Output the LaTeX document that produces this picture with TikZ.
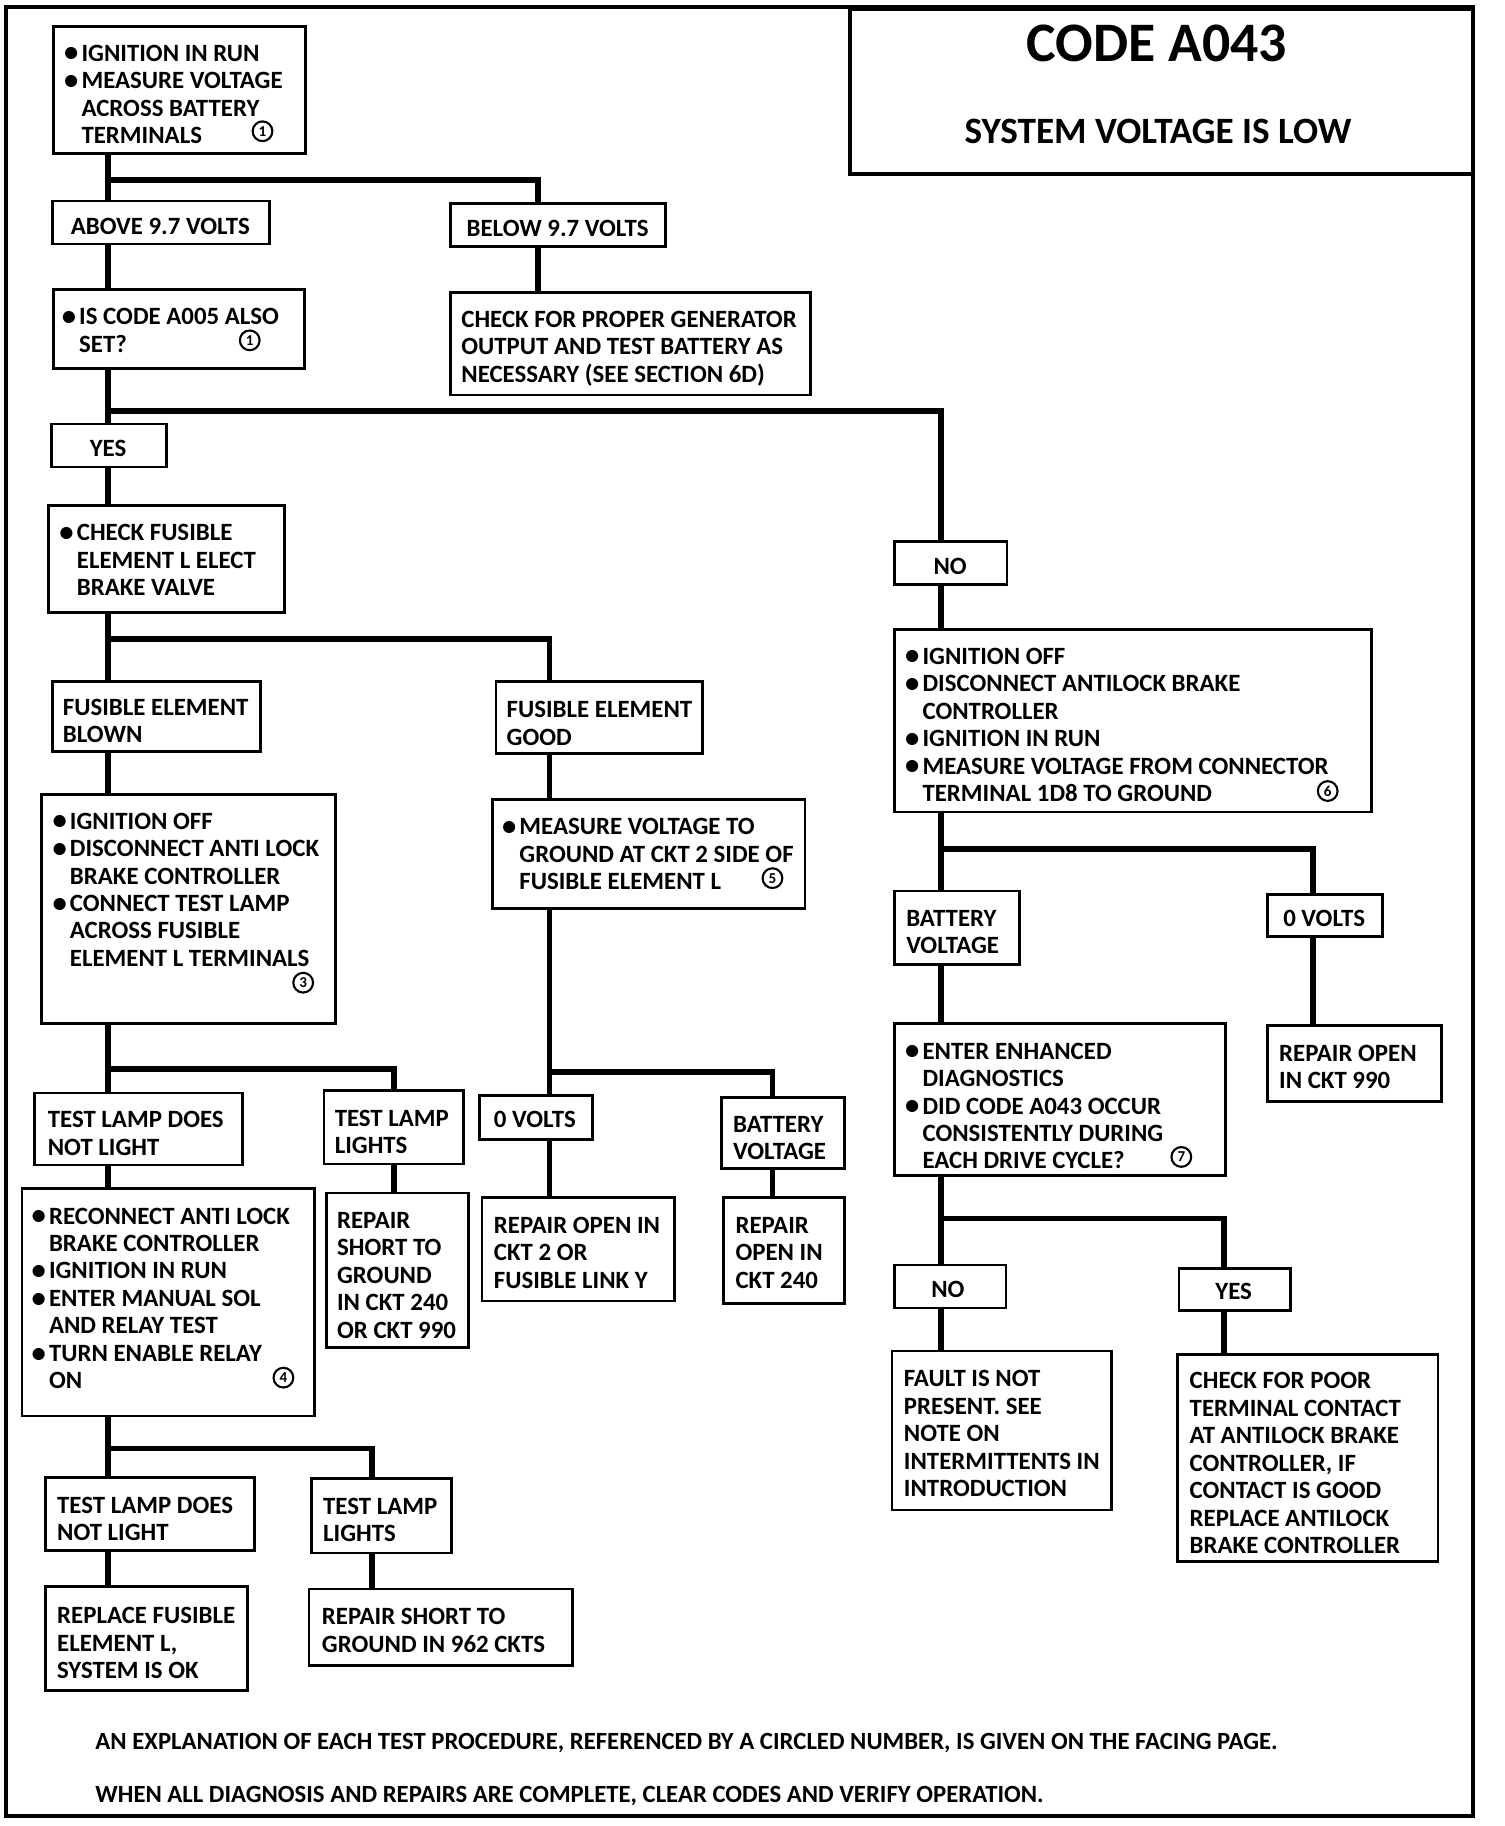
\documentclass[tikz,border=0pt]{standalone}
\usepackage{fontspec}
\setmainfont{Carlito}
\usepackage{graphicx}
\newcommand\bul{\makebox[15pt][l]{\raisebox{-0.6pt}{\scalebox{1.15}{\textbullet}}}}
\newcommand\ind{\hspace*{15pt}}
\newcommand\mkbox[5]{\node[box, minimum width={#4-#2}, minimum height={#5-#3}] (#1) at (#2,#3) {};}
\tikzset{
 box/.style={draw, line width=2.4pt, anchor=north west, inner sep=0pt, outer sep=0pt},
 txt/.style={anchor=north west, inner sep=0pt, align=left, font=\fontsize{21.4}{23.65}\selectfont\bfseries},
 ctxt/.style={anchor=center, inner sep=0pt, font=\fontsize{21.4}{23.65}\selectfont\bfseries},
 conn/.style={line width=5pt},
 cnum/.style={circle, draw, line width=1.8pt, minimum size=17pt, inner sep=0pt, font=\fontsize{13}{13}\selectfont\bfseries},
 foot/.style={anchor=west, inner sep=0pt, font=\fontsize{21.3}{23}\selectfont\bfseries},
}
\begin{document}
\begin{tikzpicture}[x=1pt,y=-1pt]
\fill[white] (0,0) rectangle (1295,1572);
\useasboundingbox (0,0) rectangle (1295,1572);
% frame
\draw[line width=3.5pt] (5,6) rectangle (1268,1563);
\node[box, line width=3.5pt, minimum width=536, minimum height=142] (title) at (732,8) {};
\node[anchor=center, inner sep=0pt, font=\fontsize{48}{48}\selectfont\bfseries] (title-a) at (996,37) {CODE A043};
\node[anchor=center, inner sep=0pt, font=\fontsize{32}{32}\selectfont\bfseries] (title-b) at (997,113) {SYSTEM VOLTAGE IS LOW};

% column coordinates
\coordinate (xL) at (93,0);
\coordinate (xM1) at (463,0);
\coordinate (xM2) at (473,0);
\coordinate (xM3) at (665,0);
\coordinate (xT1) at (339,0);
\coordinate (xT2) at (320,0);
\coordinate (xR) at (810,0);
\coordinate (xR2) at (1130,0);
\coordinate (xR3) at (1054,0);

% ---- boxes ----
\mkbox{A}{46}{23}{263}{132}
\node[txt] (A-t) at (55,38.5) {\bul IGNITION IN RUN\\ \bul MEASURE VOLTAGE\\ \ind ACROSS BATTERY\\ \ind TERMINALS};
\node[cnum] (A-c) at (226,113) {1};

\mkbox{ab}{45}{173}{232}{210}
\node[ctxt] (ab-t) at (138,195) {ABOVE 9.7 VOLTS};
\mkbox{bl}{388}{175}{573}{212}
\node[ctxt] (bl-t) at (480,197) {BELOW 9.7 VOLTS};

\mkbox{B}{46}{249}{262}{317}
\node[txt] (B-t) at (53,265.5) {\bul IS CODE A005 ALSO\\ \ind SET?};
\node[cnum] (B-c) at (215,293) {1};

\mkbox{C}{388}{252}{698}{340}
\node[txt] (C-t) at (397,267.5) {CHECK FOR PROPER GENERATOR\\ OUTPUT AND TEST BATTERY AS\\ NECESSARY (SEE SECTION 6D)};

\mkbox{yes}{44}{365}{143}{402}
\node[ctxt] (yes-t) at (93,386) {YES};
\mkbox{no}{770}{466}{867}{503}
\node[ctxt] (no-t) at (818,488) {NO};

\mkbox{D}{42}{435}{245}{527}
\node[txt] (D-t) at (51,451.5) {\bul CHECK FUSIBLE\\ \ind ELEMENT L ELECT\\ \ind BRAKE VALVE};

\mkbox{feb}{45}{587}{224}{647}
\node[txt] (feb-t) at (54,601.5) {FUSIBLE ELEMENT\\ BLOWN};
\mkbox{feg}{427}{587}{605}{649}
\node[txt] (feg-t) at (436,603.5) {FUSIBLE ELEMENT\\ GOOD};

\mkbox{E}{36}{684}{289}{881}
\node[txt] (E-t) at (45,699.5) {\bul IGNITION OFF\\ \bul DISCONNECT ANTI LOCK\\ \ind BRAKE CONTROLLER\\ \bul CONNECT TEST LAMP\\ \ind ACROSS FUSIBLE\\ \ind ELEMENT L TERMINALS};
\node[cnum] (E-c) at (261,846) {3};

\mkbox{F}{424}{688}{693}{782}
\node[txt] (F-t) at (432,704.5) {\bul MEASURE VOLTAGE TO\\ \ind GROUND AT CKT 2 SIDE OF\\ \ind FUSIBLE ELEMENT L};
\node[cnum] (F-c) at (665,756) {5};

\mkbox{ovm}{413}{943}{510}{981}
\node[ctxt, anchor=west] (ovm-t) at (425,964) {0 VOLTS};
\mkbox{bvm}{621}{945}{727}{1006}
\node[txt] (bvm-t) at (631,960.5) {BATTERY\\ VOLTAGE};
\mkbox{ro2}{415}{1031}{581}{1120}
\node[txt] (ro2-t) at (425,1047.5) {REPAIR OPEN IN\\ CKT 2 OR\\ FUSIBLE LINK Y};
\mkbox{ro240}{623}{1031}{727}{1122}
\node[txt] (ro240-t) at (633,1047.5) {REPAIR\\ OPEN IN\\ CKT 240};

\mkbox{tl1n}{30}{941}{209}{1003}
\node[txt] (tl1n-t) at (41,956.5) {TEST LAMP DOES\\ NOT LIGHT};
\mkbox{tl1y}{279}{939}{399}{1002}
\node[txt] (tl1y-t) at (288,955.5) {TEST LAMP\\ LIGHTS};

\mkbox{G}{19}{1023}{271}{1219}
\node[txt] (G-t) at (27,1039.5) {\bul RECONNECT ANTI LOCK\\ \ind BRAKE CONTROLLER\\ \bul IGNITION IN RUN\\ \bul ENTER MANUAL SOL\\ \ind AND RELAY TEST\\ \bul TURN ENABLE RELAY\\ \ind ON};
\node[cnum] (G-c) at (244,1186) {4};

\mkbox{H}{281}{1027}{403}{1160}
\node[txt] (H-t) at (290,1043.5) {REPAIR\\ SHORT TO\\ GROUND\\ IN CKT 240\\ OR CKT 990};

\mkbox{tl2n}{39}{1272}{219}{1335}
\node[txt] (tl2n-t) at (49,1288.5) {TEST LAMP DOES\\ NOT LIGHT};
\mkbox{tl2y}{268}{1273}{389}{1337}
\node[txt] (tl2y-t) at (278,1289.5) {TEST LAMP\\ LIGHTS};

\mkbox{rf}{39}{1366}{213}{1455}
\node[txt] (rf-t) at (49,1383.5) {REPLACE FUSIBLE\\ ELEMENT L,\\ SYSTEM IS OK};
\mkbox{rs}{266}{1368}{493}{1434}
\node[txt] (rs-t) at (277,1384.5) {REPAIR SHORT TO\\ GROUND IN 962 CKTS};

% right side
\mkbox{I}{770}{542}{1181}{699}
\node[txt] (I-t) at (779,557.5) {\bul IGNITION OFF\\ \bul DISCONNECT ANTILOCK BRAKE\\ \ind CONTROLLER\\ \bul IGNITION IN RUN\\ \bul MEASURE VOLTAGE FROM CONNECTOR\\ \ind TERMINAL 1D8 TO GROUND};
\node[cnum] (I-c) at (1143,681) {6};

\mkbox{bvr}{770}{767}{878}{830}
\node[txt] (bvr-t) at (780,783.5) {BATTERY\\ VOLTAGE};
\mkbox{ovr}{1091}{770}{1190}{806}
\node[ctxt] (ovr-t) at (1140,791) {0 VOLTS};

\mkbox{J}{770}{881}{1055}{1012}
\node[txt] (J-t) at (779,897.5) {\bul ENTER ENHANCED\\ \ind DIAGNOSTICS\\ \bul DID CODE A043 OCCUR\\ \ind CONSISTENTLY DURING\\ \ind EACH DRIVE CYCLE?};
\node[cnum] (J-c) at (1017,996) {7};

\mkbox{r990}{1091}{883}{1241}{948}
\node[txt] (r990-t) at (1101,899.5) {REPAIR OPEN\\ IN CKT 990};

\mkbox{no2}{770}{1089}{866}{1126}
\node[ctxt] (no2-t) at (816,1110) {NO};
\mkbox{yes2}{1015}{1092}{1111}{1128}
\node[ctxt] (yes2-t) at (1062,1112) {YES};

\mkbox{fault}{768}{1163}{957}{1300}
\node[txt] (fault-t) at (778,1179.5) {FAULT IS NOT\\ PRESENT. SEE\\ NOTE ON\\ INTERMITTENTS IN\\ INTRODUCTION};
\mkbox{poor}{1014}{1166}{1238}{1344}
\node[txt] (poor-t) at (1024,1181.5) {CHECK FOR POOR\\ TERMINAL CONTACT\\ AT ANTILOCK BRAKE\\ CONTROLLER, IF\\ CONTACT IS GOOD\\ REPLACE ANTILOCK\\ BRAKE CONTROLLER};

% footer
\node[foot] (foot1) at (82,1501) {AN EXPLANATION OF EACH TEST PROCEDURE, REFERENCED BY A CIRCLED NUMBER, IS GIVEN ON THE FACING PAGE.};
\node[foot] (foot2) at (82,1546) {WHEN ALL DIAGNOSIS AND REPAIRS ARE COMPLETE, CLEAR CODES AND VERIFY OPERATION.};

% ---- connectors ----
\coordinate (j1) at (93,155);
\coordinate (j2) at (93,354);
\coordinate (j3) at (93,550);
\coordinate (j4) at (473,923);
\coordinate (j5) at (93,920);
\coordinate (j6) at (93,1247);
\coordinate (j7) at (810,731);
\coordinate (j8) at (810,1049);

\draw[conn] (A.south -| xL) -- (ab.north -| xL);
\draw[conn] (j1) -| (bl.north -| xM1);
\draw[conn] (ab.south -| xL) -- (B.north -| xL);
\draw[conn] (bl.south -| xM1) -- (C.north -| xM1);
\draw[conn] (B.south -| xL) -- (yes.north -| xL);
\draw[conn] (j2) -| (no.north -| xR);
\draw[conn] (yes.south -| xL) -- (D.north -| xL);
\draw[conn] (no.south -| xR) -- (I.north -| xR);
\draw[conn] (D.south -| xL) -- (feb.north -| xL);
\draw[conn] (j3) -| (feg.north -| xM2);
\draw[conn] (feb.south -| xL) -- (E.north -| xL);
\draw[conn] (feg.south -| xM2) -- (F.north -| xM2);
\draw[conn] (F.south -| xM2) -- (ovm.north -| xM2);
\draw[conn] (j4) -| (bvm.north -| xM3);
\draw[conn] (ovm.south -| xM2) -- (ro2.north -| xM2);
\draw[conn] (bvm.south -| xM3) -- (ro240.north -| xM3);
\draw[conn] (E.south -| xL) -- (tl1n.north -| xL);
\draw[conn] (j5) -| (tl1y.north -| xT1);
\draw[conn] (tl1n.south -| xL) -- (G.north -| xL);
\draw[conn] (tl1y.south -| xT1) -- (H.north -| xT1);
\draw[conn] (G.south -| xL) -- (tl2n.north -| xL);
\draw[conn] (j6) -| (tl2y.north -| xT2);
\draw[conn] (tl2n.south -| xL) -- (rf.north -| xL);
\draw[conn] (tl2y.south -| xT2) -- (rs.north -| xT2);
\draw[conn] (I.south -| xR) -- (bvr.north -| xR);
\draw[conn] (j7) -| (ovr.north -| xR2);
\draw[conn] (bvr.south -| xR) -- (J.north -| xR);
\draw[conn] (ovr.south -| xR2) -- (r990.north -| xR2);
\draw[conn] (J.south -| xR) -- (no2.north -| xR);
\draw[conn] (j8) -| (yes2.north -| xR3);
\draw[conn] (no2.south -| xR) -- (fault.north -| xR);
\draw[conn] (yes2.south -| xR3) -- (poor.north -| xR3);
\end{tikzpicture}
\end{document}
